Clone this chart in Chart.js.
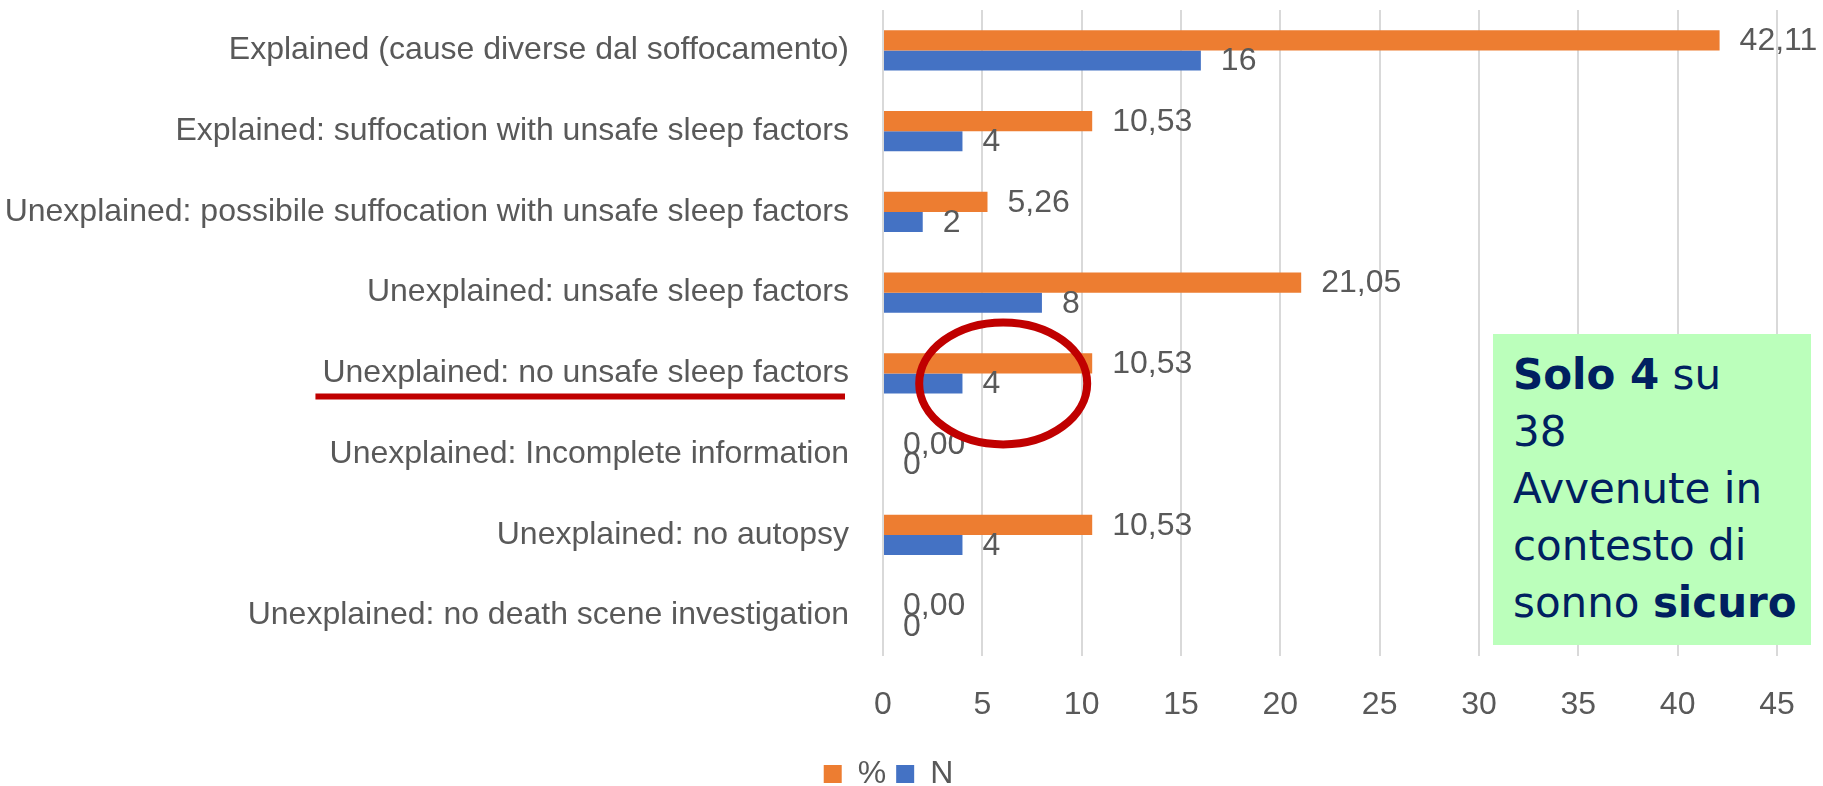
<!DOCTYPE html>
<html>
<head>
<meta charset="utf-8">
<script src="https://cdn.jsdelivr.net/npm/chart.js@4.4.1/dist/chart.umd.min.js"></script>
<style>
  html, body { margin: 0; padding: 0; background: #ffffff; }
  #wrap { position: relative; width: 1823px; height: 786px; }
  #note {
    position: absolute; left: 1493px; top: 334px; width: 318px; height: 311px;
    background: #BBFFBB; color: #002060; box-sizing: border-box;
    padding: 12px 0 0 20px; font-family: "DejaVu Sans", sans-serif;
    font-size: 42px; line-height: 57px; white-space: nowrap;
  }
</style>
</head>
<body>
<div id="wrap">
  <canvas id="c" width="1823" height="786"></canvas>
  <div id="note"><b>Solo 4</b> su<br>38<br>Avvenute in<br>contesto di<br>sonno <b>sicuro</b></div>
</div>
<script>
const categories = [
  "Explained (cause diverse dal soffocamento)",
  "Explained: suffocation with unsafe sleep factors",
  "Unexplained: possibile suffocation with unsafe sleep factors",
  "Unexplained: unsafe sleep factors",
  "Unexplained: no unsafe sleep factors",
  "Unexplained: Incomplete information",
  "Unexplained: no autopsy",
  "Unexplained: no death scene investigation"
];
const pctValues = [42.11, 10.53, 5.26, 21.05, 10.53, 0, 10.53, 0];
const nValues = [16, 4, 2, 8, 4, 0, 4, 0];
const seriesNames = ["%", "N"];
const xTicks = [0, 5, 10, 15, 20, 25, 30, 35, 40, 45];

const FONT = '"Liberation Sans", Arial, sans-serif';
const GREY = '#595959';

const dataLabels = {
  id: 'dataLabels',
  afterDatasetsDraw(chart) {
    const ctx = chart.ctx;
    ctx.save();
    ctx.font = '32px ' + FONT;
    ctx.fillStyle = GREY;
    ctx.textAlign = 'left';
    ctx.textBaseline = 'middle';
    chart.data.datasets.forEach((ds, di) => {
      const meta = chart.getDatasetMeta(di);
      meta.data.forEach((el, i) => {
        const v = ds.data[i];
        const txt = di === 0 ? v.toFixed(2).replace('.', ',') : String(v);
        ctx.fillText(txt, el.x + 20, el.y + 1);
      });
    });
    ctx.restore();
  }
};

const highlight = {
  id: 'highlight',
  afterDraw(chart) {
    const ctx = chart.ctx;
    const xs = chart.scales.x, ys = chart.scales.y;
    const idx = 4;
    const cy = ys.getPixelForValue(idx);
    ctx.save();
    ctx.font = '32px ' + FONT;
    const w = ctx.measureText(categories[idx]).width;
    const right = chart.chartArea.left - 34;
    ctx.strokeStyle = '#C00000';
    ctx.lineWidth = 6;
    ctx.beginPath();
    ctx.moveTo(right - w - 7, cy + 23);
    ctx.lineTo(right - 4, cy + 23);
    ctx.stroke();
    ctx.lineWidth = 8;
    ctx.beginPath();
    ctx.ellipse(xs.getPixelForValue(6.05), cy + 10, 84, 61, 0, 0, Math.PI * 2);
    ctx.stroke();
    ctx.restore();
  }
};

new Chart(document.getElementById('c'), {
  type: 'bar',
  data: {
    labels: categories,
    datasets: [
      { label: seriesNames[0], data: pctValues, backgroundColor: '#ED7D31', categoryPercentage: 0.5, barPercentage: 1.0 },
      { label: seriesNames[1], data: nValues, backgroundColor: '#4472C4', categoryPercentage: 0.5, barPercentage: 1.0 }
    ]
  },
  options: {
    indexAxis: 'y',
    responsive: false,
    animation: false,
    layout: { padding: { top: 10, right: 46, left: 0, bottom: -14 } },
    scales: {
      x: {
        min: 0, max: 45,
        afterBuildTicks(scale) { scale.ticks = xTicks.map(v => ({ value: v })); },
        afterFit(scale) { scale.height = 92; scale.paddingLeft = 0; scale.paddingRight = 0; },
        grid: { color: '#D9D9D9', lineWidth: 2, drawTicks: false },
        border: { display: false },
        ticks: { color: GREY, font: { size: 32, family: FONT }, padding: 30 }
      },
      y: {
        afterFit(scale) { scale.width = 883; scale.paddingTop = 0; scale.paddingBottom = 0; },
        grid: { display: false, drawTicks: false },
        border: { display: false },
        ticks: { color: GREY, font: { size: 32, family: FONT }, padding: 34 }
      }
    },
    plugins: {
      legend: {
        position: 'bottom',
        labels: { color: GREY, font: { size: 32, family: FONT }, boxWidth: 18, boxHeight: 18, padding: 10 }
      },
      tooltip: { enabled: false }
    }
  },
  plugins: [dataLabels, highlight]
});
</script>
</body>
</html>
